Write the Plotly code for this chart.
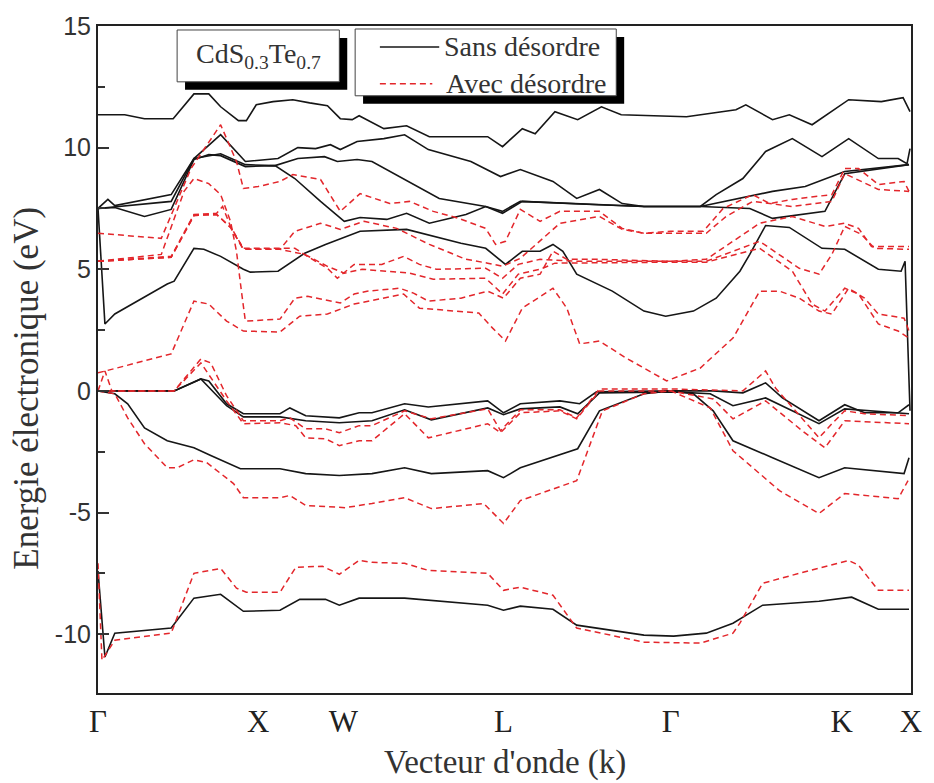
import plotly.graph_objects as go

# ---------------- k-path (arbitrary path length units) ----------------
kpath_ticks = [0, 162, 248, 410, 579, 752, 822]
kpath_labels = ["Γ", "X", "W", "L", "Γ", "K", "X"]

# ---------------- Sans désordre (black, solid): (k, E in eV) ----------------
sans_c1 = [(0, 11.35), (27, 11.35), (47, 11.19), (76, 11.19), (97, 12.21), (112, 12.21), (124, 11.68),
           (142, 11.11), (150, 11.11), (160, 11.76), (177, 11.89), (197, 11.97), (214, 11.84), (232, 11.72),
           (245, 11.19), (257, 11.15), (264, 11.31), (289, 10.78), (312, 10.90), (335, 10.45), (372, 10.45),
           (394, 10.45), (409, 10.04), (429, 10.78), (442, 10.57), (462, 11.48), (485, 11.15), (509, 11.68),
           (529, 11.35), (595, 11.27), (645, 11.56), (655, 11.76), (682, 11.15), (699, 11.35), (722, 10.94),
           (759, 11.97), (792, 11.89), (814, 12.05), (821, 11.48)]
sans_c2 = [(0, 7.50), (10, 7.87), (17, 7.62), (74, 8.07), (97, 9.55), (124, 10.53), (149, 9.43), (182, 9.55),
           (202, 10.0), (220, 9.96), (235, 10.12), (245, 9.92), (262, 10.25), (289, 10.37), (310, 10.53),
           (334, 9.92), (377, 9.43), (407, 8.81), (427, 9.10), (460, 8.61), (484, 7.91), (507, 8.28),
           (530, 7.70), (552, 7.58), (609, 7.58), (625, 8.07), (652, 8.73), (675, 9.84), (702, 10.37),
           (732, 9.63), (759, 10.37), (789, 9.55), (809, 9.55), (818, 9.34), (821, 9.96)]
sans_c3 = [(0, 7.50), (17, 7.54), (47, 7.17), (74, 7.46), (97, 9.51), (112, 9.71), (124, 9.67), (149, 9.22),
           (179, 9.26), (199, 8.73), (225, 7.79), (249, 6.97), (265, 7.13), (292, 7.05), (312, 7.30),
           (335, 6.89), (372, 7.25), (392, 7.58), (409, 7.38), (427, 7.79), (500, 7.66), (552, 7.58),
           (609, 7.58), (659, 7.50), (682, 7.09), (735, 7.38), (755, 8.93), (820, 9.30)]
sans_c4 = [(0, 7.50), (74, 7.79), (97, 9.55), (124, 9.75), (149, 9.30), (179, 9.26), (202, 9.55), (229, 9.63),
           (242, 9.43), (262, 9.51), (277, 9.43), (319, 8.48), (345, 7.91), (392, 7.58), (409, 7.30),
           (429, 7.79), (500, 7.66), (552, 7.58), (609, 7.58), (642, 7.87), (682, 8.20), (715, 8.40),
           (755, 9.02), (820, 9.30)]
sans_c5 = [(0, 7.50), (7, 2.75), (17, 3.16), (40, 3.69), (70, 4.39), (77, 4.51), (97, 5.86), (107, 5.82),
           (124, 5.53), (147, 5.00), (154, 4.88), (182, 4.92), (209, 5.66), (230, 6.02), (265, 6.56),
           (312, 6.64), (367, 6.07), (392, 5.86), (412, 5.20), (429, 5.74), (447, 5.74), (460, 6.02),
           (470, 5.74), (484, 4.80), (520, 4.10), (552, 3.28), (574, 3.07), (602, 3.28), (625, 3.81),
           (649, 4.92), (659, 5.61), (675, 6.80), (699, 6.72), (732, 5.86), (755, 5.82), (789, 5.00),
           (812, 4.92), (816, 5.33), (821, -0.82)]
sans_v1 = [(0, 0.0), (77, 0.0), (104, 0.49), (112, 0.41), (130, -0.53), (147, -0.94), (184, -0.94),
           (194, -0.70), (210, -1.02), (244, -1.11), (264, -0.90), (277, -0.90), (310, -0.53), (334, -0.66),
           (394, -0.41), (410, -0.90), (427, -0.53), (467, -0.41), (487, -0.53), (504, -0.04), (582, 0.0),
           (622, 0.0), (652, -0.08), (675, 0.33), (692, -0.29), (729, -1.23), (755, -0.57), (775, -0.90),
           (809, -0.90), (820, -0.57)]
sans_v2 = [(0, 0.0), (77, 0.0), (104, 0.49), (130, -0.61), (147, -1.07), (184, -1.07), (210, -1.23),
           (244, -1.31), (277, -1.23), (310, -0.78), (337, -1.19), (394, -0.70), (410, -0.98), (427, -0.74),
           (467, -0.66), (485, -0.94), (507, -0.08), (582, -0.04), (619, -0.12), (642, -0.61), (675, -0.29),
           (729, -1.35), (755, -0.74), (820, -0.94)]
sans_v3 = [(0, 0.0), (17, -0.12), (30, -0.53), (47, -1.52), (70, -2.05), (97, -2.34), (114, -2.66),
           (144, -3.20), (184, -3.20), (210, -3.40), (244, -3.48), (277, -3.40), (310, -3.16), (337, -3.40),
           (394, -3.28), (410, -3.57), (427, -3.16), (485, -2.38), (507, -0.82), (552, -0.12), (579, 0.0),
           (602, -0.12), (622, -0.82), (642, -2.05), (682, -2.75), (729, -3.57), (755, -3.16), (815, -3.40),
           (820, -2.75)]
sans_v4 = [(0, -7.40), (7, -10.94), (17, -9.96), (74, -9.75), (97, -8.52), (124, -8.36), (147, -9.06),
           (184, -9.02), (204, -8.57), (230, -8.57), (244, -8.81), (264, -8.52), (310, -8.52), (394, -8.81),
           (410, -9.02), (427, -8.85), (460, -8.98), (484, -9.63), (552, -10.04), (582, -10.08), (615, -9.96),
           (642, -9.55), (672, -8.81), (729, -8.65), (762, -8.48), (789, -8.98), (820, -8.98)]

# ---------------- Avec désordre (red, dashed): (k, E in eV) ----------------
avec_c1 = [(0, 6.48), (64, 6.27), (94, 9.14), (124, 10.94), (140, 9.43), (147, 8.32), (162, 8.40), (184, 8.61),
           (197, 8.89), (225, 8.69), (245, 7.38), (265, 8.11), (295, 7.70), (315, 7.79), (339, 7.38),
           (365, 7.09), (392, 6.68), (402, 6.02), (412, 6.15), (427, 7.46), (447, 6.97), (467, 7.38),
           (507, 7.38), (530, 6.68), (552, 6.48), (579, 6.56), (612, 6.56), (632, 7.50), (662, 8.07),
           (679, 7.70), (702, 7.87), (742, 8.07), (755, 9.14), (769, 9.14), (789, 8.48), (815, 8.61),
           (820, 8.20)]
avec_c2 = [(0, 5.33), (64, 5.61), (87, 8.20), (97, 8.73), (112, 8.52), (124, 8.07), (134, 6.97), (140, 5.74),
           (145, 4.10), (149, 2.87), (184, 2.95), (199, 3.81), (212, 3.89), (225, 3.77), (245, 3.61),
           (259, 3.98), (272, 4.10), (305, 4.22), (319, 4.02), (334, 3.69), (367, 3.81), (394, 4.10),
           (410, 3.81), (427, 4.63), (447, 4.80), (460, 5.74), (474, 5.41), (502, 5.41), (579, 5.33),
           (615, 5.41), (642, 6.15), (669, 6.89), (702, 7.17), (735, 6.76), (755, 6.89), (769, 6.68),
           (782, 5.94), (820, 5.94)]
avec_c3 = [(0, 5.33), (74, 5.53), (97, 7.25), (120, 7.30), (126, 7.58), (134, 6.76), (147, 5.86), (184, 5.86),
           (199, 5.86), (215, 5.45), (232, 5.04), (242, 4.63), (259, 5.20), (287, 5.20), (309, 5.53),
           (325, 5.20), (342, 5.00), (392, 5.04), (409, 4.63), (425, 5.20), (447, 5.41), (482, 5.33),
           (579, 5.33), (615, 5.33), (669, 6.15), (689, 5.61), (709, 5.04), (729, 4.80), (742, 5.61),
           (755, 6.76), (772, 6.43), (785, 5.86), (820, 5.82)]
avec_c4 = [(0, 5.33), (74, 5.49), (97, 7.21), (120, 7.25), (134, 6.72), (147, 5.82), (184, 5.82), (199, 6.56),
           (225, 6.89), (245, 6.64), (269, 6.97), (302, 6.68), (335, 6.02), (372, 5.41), (394, 5.25),
           (409, 5.12), (427, 5.45), (447, 6.15), (467, 6.89), (507, 7.17), (530, 6.64), (552, 6.48),
           (579, 6.48), (615, 6.48), (635, 7.17), (662, 7.79), (702, 7.58), (742, 7.79), (755, 8.93),
           (789, 8.28), (820, 8.20)]
avec_c5 = [(0, 5.33), (74, 5.49), (97, 7.21), (120, 7.25), (134, 6.72), (147, 5.82), (184, 5.82), (209, 5.61),
           (232, 5.12), (249, 4.84), (267, 5.00), (315, 4.84), (339, 4.59), (392, 4.63), (409, 3.98),
           (425, 4.80), (447, 5.00), (462, 5.25), (579, 5.29), (615, 5.29), (669, 5.86), (702, 4.92),
           (722, 3.57), (735, 3.28), (755, 4.22), (769, 3.98), (789, 2.75), (809, 2.46), (820, 2.17)]
avec_c6 = [(0, 0.74), (74, 1.52), (97, 3.69), (112, 3.57), (130, 2.87), (147, 2.46), (184, 2.42), (204, 3.07),
           (232, 3.16), (259, 3.57), (309, 3.98), (325, 3.40), (385, 3.20), (399, 2.58), (412, 2.05),
           (429, 3.40), (460, 4.22), (474, 3.40), (487, 1.93), (507, 2.05), (534, 1.35), (552, 0.94),
           (575, 0.41), (609, 0.94), (642, 2.17), (669, 4.10), (689, 4.10), (709, 3.81), (729, 3.28),
           (742, 3.16), (759, 4.22), (775, 3.81), (789, 3.16), (815, 2.99), (820, 2.46)]
avec_v1 = [(0, 0.0), (7, 0.82), (14, 0.0), (77, 0.0), (104, 1.31), (114, 1.15), (130, -0.20), (147, -1.23),
           (184, -1.23), (194, -1.11), (210, -1.56), (230, -1.56), (244, -1.72), (264, -1.43), (277, -1.43),
           (310, -0.82), (337, -1.15), (394, -0.74), (407, -1.64), (427, -0.78), (467, -0.78), (484, -1.11),
           (507, 0.08), (579, 0.08), (652, 0.0), (675, 0.82), (685, 0.12), (729, -1.93), (742, -1.35),
           (755, -0.82), (775, -0.94), (820, -1.02)]
avec_v2 = [(0, 0.0), (77, 0.0), (104, 1.15), (130, -0.41), (147, -1.35), (184, -1.31), (200, -1.43),
           (210, -1.93), (230, -1.97), (244, -2.25), (264, -2.05), (277, -2.05), (310, -0.94), (334, -1.93),
           (394, -1.35), (407, -1.72), (427, -0.90), (467, -0.82), (484, -1.15), (507, 0.0), (579, 0.0),
           (622, -0.33), (642, -1.15), (675, -0.41), (712, -1.64), (735, -2.34), (755, -1.23), (820, -1.35)]
avec_v3 = [(0, 0.0), (17, -0.12), (30, -1.11), (47, -2.17), (70, -3.16), (80, -3.16), (97, -2.83),
           (110, -2.95), (137, -3.81), (147, -4.39), (184, -4.39), (194, -4.30), (210, -4.71), (250, -4.80),
           (277, -4.63), (310, -4.39), (337, -4.84), (390, -4.63), (410, -5.45), (427, -4.51), (484, -3.69),
           (500, -1.93), (510, -0.82), (552, -0.12), (579, 0.0), (619, -0.70), (642, -2.46), (689, -4.10),
           (729, -5.04), (755, -4.22), (809, -4.43), (819, -3.69)]
avec_v4 = [(0, -7.09), (4, -11.07), (17, -10.25), (74, -9.96), (97, -7.50), (124, -7.30), (140, -8.11),
           (150, -8.28), (184, -8.28), (200, -7.25), (227, -7.21), (244, -7.54), (264, -6.97), (277, -7.05),
           (310, -7.09), (334, -7.38), (394, -7.50), (410, -8.20), (427, -8.07), (460, -8.40), (484, -9.75),
           (552, -10.33), (609, -10.37), (642, -9.96), (649, -9.55), (672, -7.91), (709, -7.50), (759, -6.97),
           (769, -7.17), (789, -8.20), (820, -8.20)]

sans_bands = [sans_c1, sans_c2, sans_c3, sans_c4, sans_c5, sans_v1, sans_v2, sans_v3, sans_v4]
avec_bands = [avec_c1, avec_c2, avec_c3, avec_c4, avec_c5, avec_c6, avec_v1, avec_v2, avec_v3, avec_v4]

y_major = [-10, -5, 0, 5, 10, 15]
y_major_text = ["-10", "-5", "0", "5", "10", "15"]
y_minor = [-12.5, -7.5, -2.5, 2.5, 7.5, 12.5]

legend_labels = ["Sans désordre", "Avec désordre"]
compound_label = "CdS<sub>0.3</sub>Te<sub>0.7</sub>"

BLACK = "#161616"
RED = "#e3262b"
SERIF = "Liberation Serif, Times New Roman, serif"
SANS = "Liberation Sans, Arial, sans-serif"

fig = go.Figure()
for band in sans_bands:
    fig.add_trace(go.Scatter(x=[p[0] for p in band], y=[p[1] for p in band], mode="lines",
                             line=dict(color=BLACK, width=1.6), showlegend=False, hoverinfo="skip"))
for band in avec_bands:
    fig.add_trace(go.Scatter(x=[p[0] for p in band], y=[p[1] for p in band], mode="lines",
                             line=dict(color=RED, width=1.5, dash="6px,4px"), showlegend=False,
                             hoverinfo="skip"))

W, H = 934, 783
ML, MR, MT, MB = 98, 14, 24, 90
PW, PH = W - ML - MR, H - MT - MB


def px_x(px):
    return (px - ML) / PW


def px_y(py):
    return (H - MB - py) / PH


shapes = []
annotations = []


def boxed(x0, y0, x1, y1, off):
    shapes.append(dict(type="rect", xref="paper", yref="paper", x0=px_x(x0 + off), x1=px_x(x1 + off),
                       y0=px_y(y1 + off), y1=px_y(y0 + off), fillcolor="black", line=dict(width=0),
                       layer="above"))
    shapes.append(dict(type="rect", xref="paper", yref="paper", x0=px_x(x0), x1=px_x(x1),
                       y0=px_y(y1), y1=px_y(y0), fillcolor="white", line=dict(color="#444", width=1),
                       layer="above"))


boxed(178, 28, 342, 80, 8)
boxed(358, 27, 622, 94, 8)

annotations.append(dict(text=compound_label, xref="paper", yref="paper", x=px_x(260), y=px_y(54),
                        xanchor="center", yanchor="middle", showarrow=False,
                        font=dict(family=SERIF, size=28, color="#333")))
shapes.append(dict(type="line", xref="paper", yref="paper", x0=px_x(383), x1=px_x(443),
                   y0=px_y(45), y1=px_y(45), line=dict(color=BLACK, width=1.6), layer="above"))
shapes.append(dict(type="line", xref="paper", yref="paper", x0=px_x(383), x1=px_x(436),
                   y0=px_y(82), y1=px_y(82), line=dict(color=RED, width=1.5, dash="6px,4px"),
                   layer="above"))
annotations.append(dict(text=legend_labels[0], xref="paper", yref="paper", x=px_x(446), y=px_y(45),
                        xanchor="left", yanchor="middle", showarrow=False,
                        font=dict(family=SERIF, size=28, color="#333")))
annotations.append(dict(text=legend_labels[1], xref="paper", yref="paper", x=px_x(448), y=px_y(82),
                        xanchor="left", yanchor="middle", showarrow=False,
                        font=dict(family=SERIF, size=28, color="#333")))
annotations.append(dict(text="Vecteur d'onde (k)", xref="paper", yref="paper", x=px_x(509), y=px_y(763),
                        xanchor="center", yanchor="middle", showarrow=False,
                        font=dict(family=SERIF, size=33, color="#333")))
annotations.append(dict(text="Energie électronique (eV)", xref="paper", yref="paper", x=px_x(26),
                        y=px_y(387), xanchor="center", yanchor="middle", showarrow=False, textangle=-90,
                        font=dict(family=SERIF, size=35, color="#333")))

fig.update_layout(
    width=W, height=H,
    margin=dict(l=ML, r=MR, t=MT, b=MB),
    paper_bgcolor="white", plot_bgcolor="white",
    shapes=shapes, annotations=annotations,
    xaxis=dict(range=[0, 822], tickmode="array", tickvals=kpath_ticks, ticktext=kpath_labels,
               ticks="", showgrid=False, zeroline=False, showline=True, mirror=True,
               linecolor="#222", linewidth=2, tickfont=dict(family=SERIF, size=31, color="#222")),
    yaxis=dict(range=[-12.42, 15.0], tickmode="array", tickvals=y_major, ticktext=y_major_text,
               ticks="inside", ticklen=11, tickwidth=1.5, tickcolor="#333",
               minor=dict(tickvals=y_minor, ticks="inside", ticklen=7, tickwidth=1.5, tickcolor="#333"),
               showgrid=False, zeroline=False, showline=True, mirror=True,
               linecolor="#222", linewidth=2, tickfont=dict(family=SANS, size=25, color="#333")),
)

fig.write_html("out.html")
